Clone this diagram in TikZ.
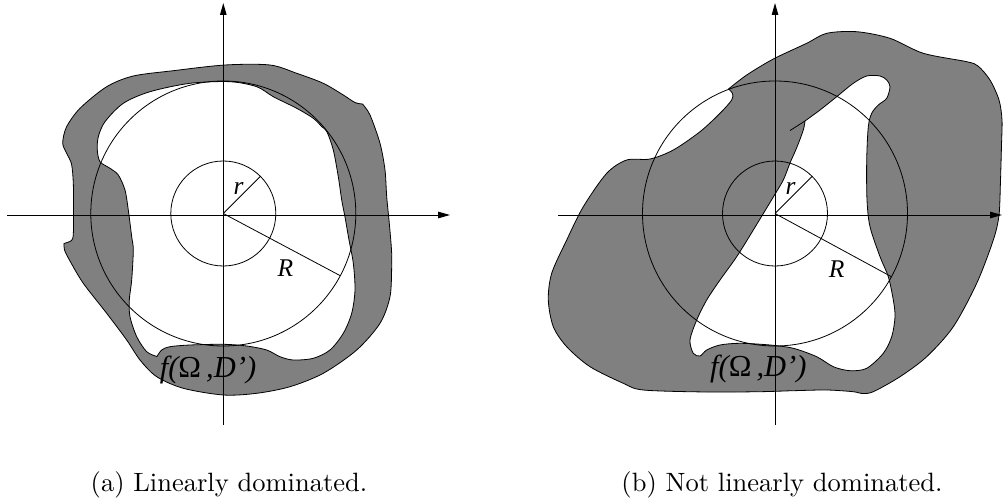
\documentclass[tikz,border=0pt]{standalone}
\usepackage{fontspec}
\newfontfamily\tms{Liberation Serif}
\newfontfamily\capfont{lmroman10-regular.otf}
\usetikzlibrary{arrows.meta}
\begin{document}
\begin{tikzpicture}[x=1pt,y=-1pt,
  region/.style={fill=gray, draw=black, line width=0.8pt, even odd rule},
  thinline/.style={draw=black, line width=0.8pt},
  axis/.style={draw=black, line width=1pt, -{Triangle[length=12pt,width=6.5pt]}},
  lab/.style={font=\tms\itshape\fontsize{25.5}{25.5}\selectfont, inner sep=0pt},
  flab/.style={font=\tms\fontsize{30.5}{30.5}\selectfont, inner sep=0pt},
  captext/.style={font=\capfont\fontsize{26.5}{30}\selectfont, inner sep=0pt, anchor=base}
]
\useasboundingbox (0,0) rectangle (1003,503);

% ---------------- left figure ----------------
\path[region]
  plot[smooth] coordinates {(64,243.5) (71.5,240.5) (73.3,234) (73.5,210) (73.3,183) (71.5,164) (66.5,153) (62.7,143) (66.5,127) (80,108.3) (106.7,86.7) (133.3,76) (173.3,70.7) (225,65) (270,65) (296.7,73.3) (323.3,83.3) (343.3,95) (355,102.5) (362.5,104)}
  -- plot[smooth] coordinates {(362.5,104) (370,115) (380,143.3) (385,170) (386.7,196.7) (389.3,223.3) (391.5,250) (391.7,266) (390,296.7) (380,323.3) (356.7,350) (323.3,373.3) (290,386.7) (256.7,393.3) (223.3,395) (183.3,388.3) (156.7,376.7) (140,360) (126.7,340) (106.7,313.3) (83.3,283.3) (70,261) (64.5,250) (64,243.5)} -- cycle
  plot[smooth] coordinates {(321.7,126.7) (327,132) (333.3,150) (338.3,176.7) (341.7,200) (345,217) (349,240) (353.3,263.3) (355,290) (351.7,313.3) (343.3,333.3) (330,350) (313.3,358.3) (293.3,360) (280,356.7) (266.7,350) (246.7,346) (223.3,344.3) (190,345) (170,346.7) (161.7,350) (157,356.5)}
  -- plot[smooth] coordinates {(157,356.5) (146.7,351.7) (136.7,336.7) (130,316.7) (129.3,300) (131.7,280) (133.3,250) (131.7,236.7) (128.3,210) (125,190) (118.3,175) (110,168.3) (100,161.7) (97.3,150) (98.3,136.7) (105,121.7) (123.3,103.3) (150,91.7) (190,83.3) (230,81.7) (256.7,86.7) (273.3,96.7) (296.7,108.3) (313.3,118.3) (321.7,126.7)} -- cycle;

\coordinate (O1) at (223.3,213.5);
\coordinate (r1end) at ([shift={(-45:52.5)}]O1);
\coordinate (R1end) at ([shift={(28:132.5)}]O1);
\coordinate (ax1w) at (7,215);
\coordinate (ax1e) at (450,215);
\coordinate (ax1s) at (223.3,425);
\coordinate (ax1n) at (223.3,3);
\draw[thinline] (O1) circle[radius=52.5];
\draw[thinline] (O1) circle[radius=132.5];
\draw[thinline] (O1) -- (r1end);
\draw[thinline] (O1) -- (R1end);
\draw[axis] (ax1w) -- (ax1e);
\draw[axis] (ax1s) -- (ax1n);
\node[lab] (r1) at (238.5,188) {r};
\node[lab] (R1) at (285.5,268.5) {R};
\node[flab] (f1) at (208,370.5) {{\itshape f(}Ω\,{\itshape ,D’)}};
\node[captext] (capa) at (229,491) {(a) Linearly dominated.};

% ---------------- right figure ----------------
\path[region]
  plot[smooth] coordinates {(728.5,89) (746.7,75) (773.3,59) (806.7,43.3) (826.7,33.3) (856.7,31.7) (890,38.3) (923.3,53.3) (966.7,61.7) (978,66) (990,80) (999,100) (1002,120) (1001.5,145) (1000.5,180) (999,215) (993.3,240) (976.7,283.3) (953.3,326.7) (926.7,356.7) (900,376.7) (873.3,391.7) (862,393.5) (853.3,391.7) (826.7,390) (793.3,390.7) (760,391.7) (706.7,392) (643.3,390) (623.3,383.3) (590,366.7) (566.7,346.7) (553.3,326.7) (548.3,300) (551.7,273.3) (566.7,240) (583.3,206.7) (606.7,173.3) (626.7,160) (650,159) (673.3,150) (700,131.7) (720,113.3) (731.7,100) (732.5,93.5) (728.5,89)} -- cycle
  plot[smooth] coordinates {(805,121) (803.3,130) (797,147) (790,163) (783.3,180) (773.3,197) (753.3,230) (736.7,256.7) (720,280) (706.7,300) (696.7,320) (690,340) (693.3,353.3) (700,356) (706.7,350) (720,345) (740,343.3) (770,345) (793.3,348.3) (816.7,356.7) (833.3,366.7) (850,370.7) (866.7,368.3) (883.3,353.3) (891.7,336.7) (895,316.7) (893.3,300) (888.3,276.7) (880,256.7) (870,226.7) (867,200) (866.7,160) (868.3,126.7) (871.7,113.3) (878.3,105) (886.7,98.3) (890,86.7) (886.7,80) (880,76) (866.7,76) (853.3,83.3) (836.7,96.7) (820,110) (805,121)} -- cycle;

\coordinate (cusp) at (805,121);
\coordinate (spurend) at (790,130.5);
\draw[thinline] (cusp) -- (spurend);

\coordinate (O2) at (775,213.5);
\coordinate (r2end) at ([shift={(-45:52.5)}]O2);
\coordinate (R2end) at ([shift={(28.5:132.5)}]O2);
\coordinate (ax2w) at (558,215);
\coordinate (ax2e) at (1002,215);
\coordinate (ax2s) at (775,425);
\coordinate (ax2n) at (775,3);
\draw[thinline] (O2) circle[radius=52.5];
\draw[thinline] (O2) circle[radius=132.5];
\draw[thinline] (O2) -- (r2end);
\draw[thinline] (O2) -- (R2end);
\draw[axis] (ax2w) -- (ax2e);
\draw[axis] (ax2s) -- (ax2n);
\node[lab] (r2) at (790.5,188) {r};
\node[lab] (R2) at (836.7,269) {R};
\node[flab] (f2) at (758.3,369) {{\itshape f(}Ω\,{\itshape ,D’)}};
\node[captext] (capb) at (782,491) {(b) Not linearly dominated.};
\end{tikzpicture}
\end{document}
